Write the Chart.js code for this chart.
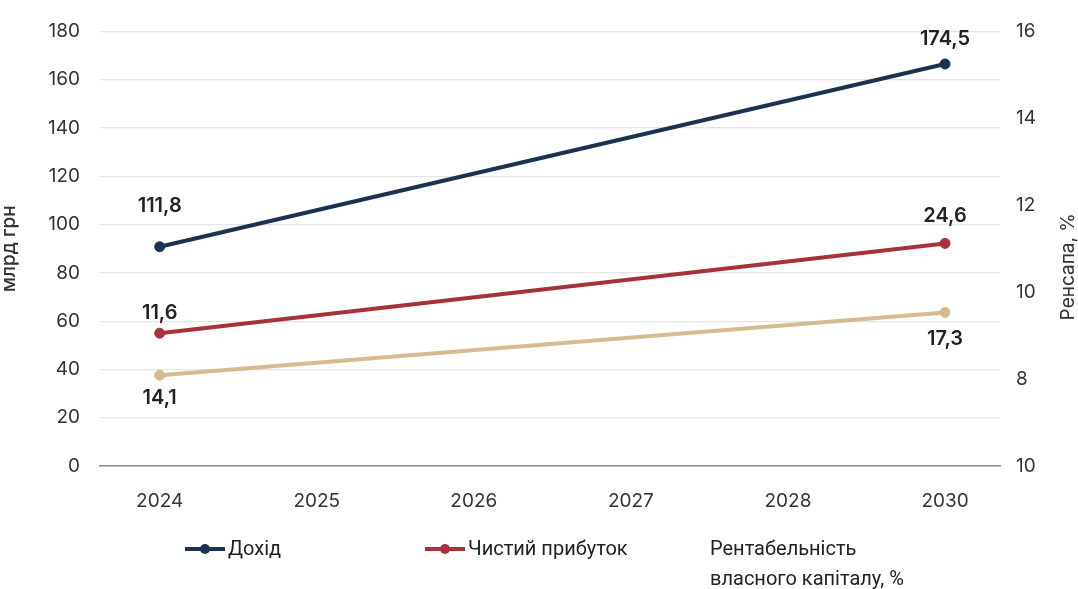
<!DOCTYPE html>
<html>
<head>
<meta charset="utf-8">
<script src="https://cdn.jsdelivr.net/npm/chart.js@4"></script>
<style>
  body { margin: 0; background: #fff; }
  #wrap { position: relative; width: 1078px; height: 589px; }
  .legend { position: absolute; font-family: Roboto, sans-serif; font-size: 20px; color: #222; line-height: 30px; }
  .sw { position: absolute; top: 14px; width: 40px; height: 4px; }
  .sw i { position: absolute; left: 15px; top: -3px; width: 10px; height: 10px; border-radius: 50%; }
</style>
</head>
<body>
<div id="wrap">
  <canvas id="chart" width="1078" height="589"></canvas>
  <div class="legend" style="left:185px; top:533px;">
    <span class="sw" style="left:0; background:#1b3350;"><i style="background:#1b3350"></i></span>
    <span style="margin-left:43px;">Дохід</span>
  </div>
  <div class="legend" style="left:425px; top:533px;">
    <span class="sw" style="left:0; background:#a8323a;"><i style="background:#a8323a"></i></span>
    <span style="margin-left:43px;">Чистий прибуток</span>
  </div>
  <div class="legend" style="left:710px; top:533px;">Рентабельність<br>власного капіталу, %</div>
</div>
<script>
// data
var years = ['2024', '2025', '2026', '2027', '2028', '2030'];
var revenue = [90.8, null, null, null, null, 166.5];
var profit = [55.0, null, null, null, null, 92.2];
var roe = [37.6, null, null, null, null, 63.6];

var revenueLabels = ['111,8', '', '', '', '', '174,5'];
var profitLabels = ['11,6', '', '', '', '', '24,6'];
var roeLabels = ['14,1', '', '', '', '', '17,3'];

var rightTickLabels = ['10', '8', '10', '12', '14', '16'];
var rightTitle = 'Ренсапа, %';

function toPoints(arr) {
  return arr.map(function (v, i) { return { x: i, y: v }; });
}

// label offsets (px from point, vertical)
var labelSets = [
  { labels: revenueLabels, dy: [-41, 0, 0, 0, 0, -25] },
  { labels: profitLabels, dy: [-20, 0, 0, 0, 0, -27] },
  { labels: roeLabels, dy: [23, 0, 0, 0, 0, 27] }
];

var valueLabels = {
  id: 'valueLabels',
  afterDatasetsDraw: function (chart) {
    var ctx = chart.ctx;
    ctx.save();
    ctx.font = '600 20px Inter, sans-serif';
    ctx.fillStyle = '#222';
    ctx.textAlign = 'center';
    ctx.textBaseline = 'middle';
    labelSets.forEach(function (set, di) {
      var meta = chart.getDatasetMeta(di);
      meta.data.forEach(function (pt, i) {
        if (!set.labels[i]) return;
        ctx.fillText(set.labels[i], pt.x, pt.y + set.dy[i]);
      });
    });
    // right axis title, reading bottom to top
    var ax = chart.scales.y2;
    ctx.translate(ax.right - 10, (ax.top + ax.bottom) / 2 + 18);
    ctx.rotate(-Math.PI / 2);
    ctx.font = '19px Inter, sans-serif';
    ctx.fillStyle = '#333';
    ctx.fillText(rightTitle, 0, 0);
    ctx.restore();
  }
};

var tickFont = { family: 'Inter, sans-serif', size: 19 };

new Chart(document.getElementById('chart'), {
  type: 'line',
  data: {
    datasets: [
      { label: 'Дохід', data: toPoints(revenue), borderColor: '#1b3350', backgroundColor: '#1b3350', yAxisID: 'y' },
      { label: 'Чистий прибуток', data: toPoints(profit), borderColor: '#a8323a', backgroundColor: '#a8323a', yAxisID: 'y' },
      { label: 'Рентабельність власного капіталу, %', data: toPoints(roe), borderColor: '#d5bb8f', backgroundColor: '#d5bb8f', yAxisID: 'y' }
    ]
  },
  options: {
    responsive: false,
    animation: false,
    spanGaps: true,
    layout: { padding: { top: 30, left: 0, right: 0, bottom: 0 } },
    elements: {
      line: { borderWidth: 4, tension: 0 },
      point: { radius: 5, hoverRadius: 5 }
    },
    plugins: { legend: { display: false }, tooltip: { enabled: false } },
    scales: {
      x: {
        type: 'linear',
        min: -0.38,
        max: 5.35,
        afterBuildTicks: function (axis) {
          axis.ticks = years.map(function (y, i) { return { value: i }; });
        },
        afterFit: function (axis) { axis.height = 123; },
        ticks: {
          callback: function (v) { return years[v]; },
          font: tickFont, color: '#333', padding: 16
        },
        grid: { display: false },
        border: { display: true, color: '#8a8a8a', width: 1.5 }
      },
      y: {
        position: 'left',
        min: 0,
        max: 180,
        afterFit: function (axis) { axis.width = 100; },
        ticks: { stepSize: 20, font: tickFont, color: '#333', padding: 20 },
        grid: { color: '#e4e4e4', lineWidth: 1.2, drawTicks: false },
        border: { display: false },
        title: { display: true, text: 'млрд грн', font: { family: 'Inter, sans-serif', size: 19, weight: '500' }, color: '#333', padding: { top: -2, bottom: 0 } }
      },
      y2: {
        position: 'right',
        min: 6,
        max: 16,
        afterFit: function (axis) { axis.width = 78; },
        ticks: {
          stepSize: 2,
          font: tickFont, color: '#333', padding: 16,
          callback: function (v, i) { return rightTickLabels[i]; }
        },
        grid: { display: false, drawTicks: false },
        border: { display: false }
      }
    }
  },
  plugins: [valueLabels]
});
</script>
</body>
</html>
